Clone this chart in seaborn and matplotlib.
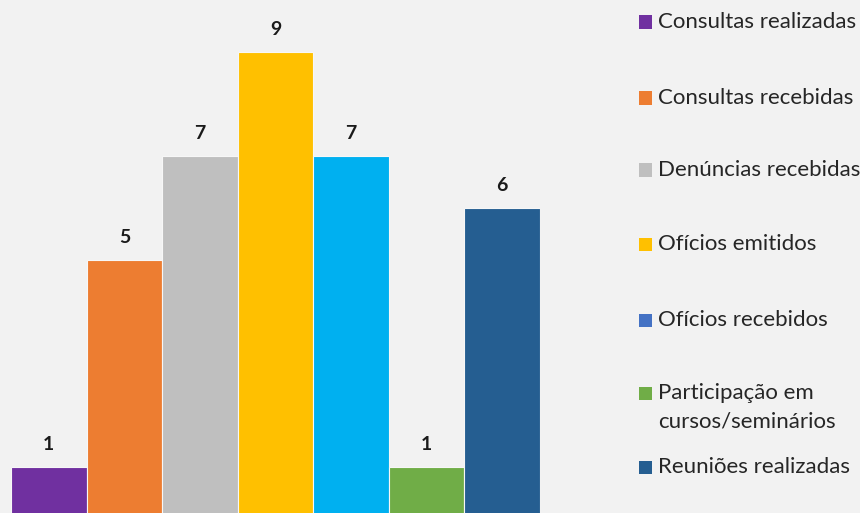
import matplotlib
matplotlib.use('Agg')
import matplotlib.pyplot as plt
import pandas as pd
import seaborn as sns
from matplotlib.patches import Rectangle

# Chart data
categories = ['Consultas realizadas', 'Consultas recebidas', 'Denúncias recebidas',
              'Ofícios emitidos', 'Ofícios recebidos',
              'Participação em\ncursos/seminários', 'Reuniões realizadas']
values = [1, 5, 7, 9, 7, 1, 6]
bar_colors = ['#7030A0', '#ED7D31', '#BFBFBF', '#FFC000', '#00B0F0', '#70AD47', '#255E91']
# the legend swatch for "Ofícios recebidos" differs from its bar in the source
legend_colors = ['#7030A0', '#ED7D31', '#BFBFBF', '#FFC000', '#4472C4', '#70AD47', '#255E91']

BG = '#F2F2F2'
W, H = 860, 513

sns.set_theme(style='white')
plt.rcParams['font.family'] = ['Lato', 'DejaVu Sans']

df = pd.DataFrame({'cat': categories, 'val': values})

fig = plt.figure(figsize=(W / 100, H / 100), dpi=100, facecolor=BG)
# axes: bars span px 11..540, baseline slightly below the bottom edge
ax = fig.add_axes([11 / W, (H - 519) / H, 529 / W, 519 / H])
ax.set_facecolor(BG)
sns.barplot(data=df, x='cat', y='val', hue='cat', palette=bar_colors, width=1.0,
            saturation=1, legend=False, ax=ax, edgecolor='#F7F7F7', linewidth=0.8)
ax.set_xlim(-0.5, 6.5)
ax.set_ylim(0, 10)
ax.axis('off')

for container in ax.containers:
    ax.bar_label(container, fmt='%d', padding=10, fontsize=14, fontweight='bold',
                 color='#1a1a1a')

# legend drawn by hand to follow the uneven spacing of the original
legend_y = [22, 98, 170, 244, 320, 393, 467]
for lab, col, y in zip(categories, legend_colors, legend_y):
    fig.patches.append(Rectangle((639 / W, 1 - (y + 6.5) / H), 13 / W, 13 / H,
                                 transform=fig.transFigure, facecolor=col,
                                 edgecolor='none'))
    for i, line in enumerate(lab.split('\n')):
        fig.text(658 / W, 1 - (y + 6 + i * 29) / H, line, ha='left', va='baseline',
                 fontsize=16, color='#262626')

fig.savefig('out.png', dpi=100, facecolor=BG)
